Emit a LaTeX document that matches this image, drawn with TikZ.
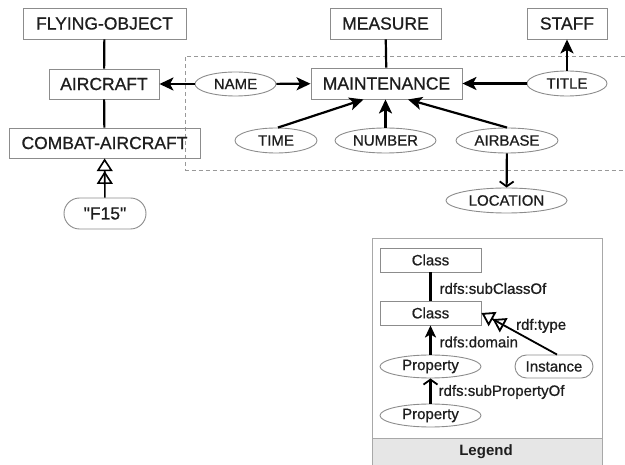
\documentclass[tikz,border=0pt]{standalone}
\usepackage{fontspec}
\setmainfont{Liberation Sans}
\newfontfamily\heavyfont{Liberation Sans}[FakeBold=0.8]
\usetikzlibrary{arrows.meta,shapes.geometric,shapes.misc,calc}
\definecolor{bordergray}{HTML}{8C8C8C}
\definecolor{txt}{HTML}{1E1E1E}
\definecolor{legendfill}{HTML}{E6E6E6}
\definecolor{legendline}{HTML}{A8A8A8}
\begin{document}
\begin{tikzpicture}[x=1pt,y=-1pt,
  cls/.style={draw=bordergray, line width=0.9pt, rectangle, inner sep=0pt, minimum height=31pt, text=txt, font=\heavyfont\fontsize{17.5}{18}\selectfont},
  prop/.style={draw=bordergray, line width=0.9pt, ellipse, inner sep=0pt, minimum height=25pt, text=txt, font=\heavyfont\fontsize{15}{16}\selectfont},
  lcls/.style={draw=bordergray, line width=0.9pt, rectangle, inner sep=0pt, minimum width=101pt, minimum height=24pt, text=txt, font=\heavyfont\fontsize{15}{16}\selectfont},
  lprop/.style={draw=bordergray, line width=0.9pt, ellipse, inner sep=0pt, minimum width=101pt, minimum height=23pt, text=txt, font=\heavyfont\fontsize{15}{16}\selectfont},
  inst/.style={draw=bordergray, line width=0.9pt, rounded rectangle, inner sep=0pt, text=txt},
  lbl/.style={text=txt, font=\heavyfont\fontsize{15}{16}\selectfont, inner sep=0pt},
  conn/.style={line width=2.2pt},
  arr/.style={conn, -{Stealth[length=14pt,width=13pt,inset=3.5pt]}},
  larr/.style={conn, -{Stealth[length=12pt,width=11pt,inset=3pt]}},
  barb/.style={conn, -{Straight Barb[length=5pt,width=14pt,line width=1.8pt]}},
  typearr/.style={conn, -{Triangle[open,angle=64:15pt,sep=0pt]Triangle[open,angle=64:15pt]}},
  dashbox/.style={draw=gray!80, line width=0.8pt, dash pattern=on 4pt off 3pt}
]
\useasboundingbox (0,0) rectangle (625,465);

% dashed region
\draw[dashbox] (625,56.5) -- (185,56.5) -- (185,170) -- (625,170);

% class nodes
\node[cls, minimum width=163pt] (fo) at (104.5,23.5) {FLYING-OBJECT};
\node[cls, minimum width=110pt, minimum height=30pt] (ac) at (104,84) {AIRCRAFT};
\node[cls, minimum width=191pt, minimum height=30pt] (ca) at (104.5,143) {COMBAT-AIRCRAFT};
\node[inst, minimum width=82pt, minimum height=31pt, font=\heavyfont\fontsize{17.5}{18}\selectfont] (f15) at (105,213.5) {"F15"};
\node[cls, minimum width=151pt] (mt) at (386.5,83.5) {MAINTENANCE};
\node[cls, minimum width=111pt] (ms) at (385.5,23.5) {MEASURE};
\node[cls, minimum width=80pt] (st) at (567,23.5) {STAFF};

% property nodes
\node[prop, minimum width=81pt, minimum height=24pt] (name) at (235.5,84) {NAME};
\node[prop, minimum width=80pt] (title) at (567,83.5) {TITLE};
\node[prop, minimum width=82pt] (time) at (276,140.5) {TIME};
\node[prop, minimum width=101pt] (num) at (385.5,140.5) {NUMBER};
\node[prop, minimum width=102pt] (ab) at (507,140.5) {AIRBASE};
\node[prop, minimum width=121pt] (loc) at (506.5,200.5) {LOCATION};

% connectors
\draw[conn] (fo) -- (ac);
\draw[conn] (ac) -- (ca);
\draw[typearr, line width=1.6pt] (f15) -- (ca);
\draw[conn] (ms) -- (mt);
\draw[arr] (name) -- (ac);
\draw[arr] (name) -- (mt);
\draw[arr] (title) -- (mt);
\draw[arr] (title) -- (st);
\draw[arr] ([xshift=2pt]time.north) -- ([xshift=-23pt]mt.south);
\draw[arr] (num.north) -- (num.north |- mt.south);
\draw[arr] (ab.north) -- ([xshift=21.5pt]mt.south);
\draw[barb] (ab) -- (loc);

% legend
\fill[legendfill] (372,438) rectangle (602,470);
\draw[legendline, line width=0.9pt] (372,470) -- (372,238) -- (602,238) -- (602,470);
\draw[legendline, line width=0.9pt] (372,438) -- (602,438);
\node[font=\bfseries\fontsize{15}{16}\selectfont, text=txt] (leg) at (486,451.5) {Legend};

\node[lcls] (c1) at (430.5,260) {Class};
\node[lcls] (c2) at (430.5,313) {Class};
\node[lprop] (p1) at (430.5,366.5) {Property};
\node[inst, minimum width=78pt, minimum height=23pt, font=\heavyfont\fontsize{15}{16}\selectfont] (in) at (554,366.5) {Instance};
\node[lprop] (p2) at (430.5,415.5) {Property};

\draw[conn] (c1) -- node[lbl, anchor=west, xshift=8pt, yshift=-2pt] {rdfs:subClassOf} (c2);
\draw[larr] (p1) -- node[lbl, anchor=west, xshift=8pt, yshift=-2pt] {rdfs:domain} (c2);
\draw[barb] (p2) -- node[lbl, anchor=west, xshift=7pt, yshift=-1pt] {rdfs:subPropertyOf} (p1);
\draw[typearr, line width=1.8pt] ([xshift=3pt]in.north) -- node[lbl, pos=0.5, anchor=south west, xshift=-4pt, yshift=0pt] {rdf:type} (c2.east);
\end{tikzpicture}
\end{document}
